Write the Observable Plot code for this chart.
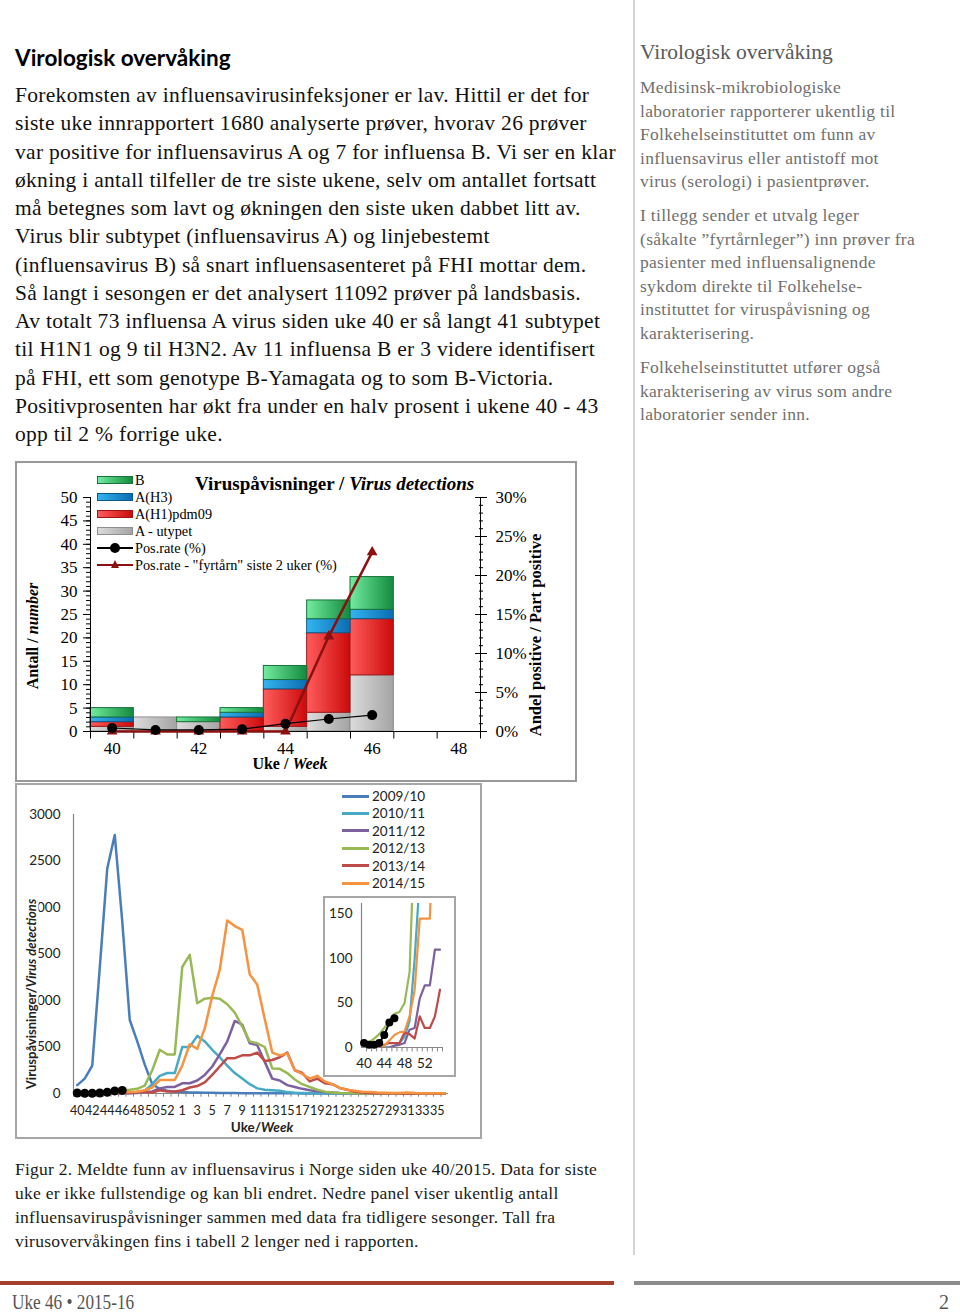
<!DOCTYPE html>
<html><head><meta charset="utf-8">
<script src="https://cdn.jsdelivr.net/npm/d3@7"></script>
<script src="https://cdn.jsdelivr.net/npm/@observablehq/plot@0.6"></script>
<style>
body{margin:0;background:#fff;}
#page{position:relative;width:960px;height:1312px;overflow:hidden;font-family:"Liberation Serif",serif;color:#000;}
.a{position:absolute;white-space:nowrap;}
.body{left:15px;top:81px;font-size:21.5px;letter-spacing:0.3px;line-height:28.25px;color:#111;}
.side{left:640px;font-size:17.5px;letter-spacing:0.3px;line-height:23.5px;color:#6f6f6f;}
.cap{left:15px;top:1157px;font-size:17.5px;letter-spacing:0.25px;line-height:24px;color:#1a1a1a;}
.leg1{font-size:14.3px;line-height:16px;}
.sw{position:absolute;width:36px;height:8px;box-sizing:border-box;}
.leg2{font-family:Lato,sans-serif;font-size:13.5px;line-height:16px;color:#222;}
.ln{position:absolute;width:27px;height:3px;}
.rot{transform:translate(-50%,-50%) rotate(-90deg);}
.box{position:absolute;box-sizing:border-box;pointer-events:none;}
</style></head><body><div id="page">

<div class="a" style="left:15px;top:44px;font-family:Lato,sans-serif;font-weight:bold;font-size:22.5px;line-height:28px;">Virologisk overvåking</div>
<div class="a body">Forekomsten av influensavirusinfeksjoner er lav. Hittil er det for<br>siste uke innrapportert 1680 analyserte prøver, hvorav 26 prøver<br>var positive for influensavirus A og 7 for influensa B. Vi ser en klar<br>økning i antall tilfeller de tre siste ukene, selv om antallet fortsatt<br>må betegnes som lavt og økningen den siste uken dabbet litt av.<br>Virus blir subtypet (influensavirus A) og linjebestemt<br>(influensavirus B) så snart influensasenteret på FHI mottar dem.<br>Så langt i sesongen er det analysert 11092 prøver på landsbasis.<br>Av totalt 73 influensa A virus siden uke 40 er så langt 41 subtypet<br>til H1N1 og 9 til H3N2. Av 11 influensa B er 3 videre identifisert<br>på FHI, ett som genotype B-Yamagata og to som B-Victoria.<br>Positivprosenten har økt fra under en halv prosent i ukene 40 - 43<br>opp til 2 % forrige uke.</div>

<div class="a" style="left:633px;top:0;width:1.5px;height:1255px;background:#d4d4d4;"></div>
<div class="a" style="left:640px;top:38px;font-size:21.5px;line-height:28px;color:#5a5a5a;">Virologisk overvåking</div>
<div class="a side" style="top:76px;">Medisinsk-mikrobiologiske<br>laboratorier rapporterer ukentlig til<br>Folkehelseinstituttet om funn av<br>influensavirus eller antistoff mot<br>virus (serologi) i pasientprøver.</div>
<div class="a side" style="top:204px;">I tillegg sender et utvalg leger<br>(såkalte ”fyrtårnleger”) inn prøver fra<br>pasienter med influensalignende<br>sykdom direkte til Folkehelse-<br>instituttet for viruspåvisning og<br>karakterisering.</div>
<div class="a side" style="top:356px;">Folkehelseinstituttet utfører også<br>karakterisering av virus som andre<br>laboratorier sender inn.</div>

<div id="topchart" class="a" style="left:15px;top:461px;"></div>
<div class="box" style="left:15px;top:461px;width:562px;height:321px;border:2px solid #999;"></div>
<div class="a" style="left:195px;top:472px;font-weight:bold;font-size:19px;line-height:24px;">Viruspåvisninger / <i>Virus detections</i></div>
<div id="leg1"></div>
<div class="a rot" style="left:33px;top:636px;font-weight:bold;font-size:16px;line-height:18px;">Antall / <i>number</i></div>
<div class="a rot" style="left:536px;top:635px;font-weight:bold;font-size:16.5px;line-height:18px;">Andel positive / Part positive</div>
<div class="a" style="left:290px;top:764px;transform:translate(-50%,-50%);font-weight:bold;font-size:16px;line-height:16px;">Uke / <i>Week</i></div>

<div id="botchart" class="a" style="left:15px;top:783px;"></div>
<div class="box" style="left:15px;top:783px;width:467px;height:356px;border:2px solid #a6a6a6;"></div>
<div class="a rot" style="left:31px;top:994px;font-family:Lato,sans-serif;font-weight:bold;font-size:13px;line-height:15px;background:#fff;color:#222;">Viruspåvisninger/<i>Virus detections</i></div>
<div class="a" style="left:262px;top:1127px;transform:translate(-50%,-50%);font-family:Lato,sans-serif;font-weight:bold;font-size:13.5px;line-height:15px;color:#222;">Uke/<i>Week</i></div>
<div id="leg2"></div>
<div id="inset" class="a" style="left:323px;top:896px;background:#fff;"></div>
<div class="box" style="left:323px;top:896px;width:133px;height:181px;border:2px solid #a6a6a6;"></div>

<div class="a cap">Figur 2. Meldte funn av influensavirus i Norge siden uke 40/2015. Data for siste<br>uke er ikke fullstendige og kan bli endret. Nedre panel viser ukentlig antall<br>influensaviruspåvisninger sammen med data fra tidligere sesonger. Tall fra<br>virusovervåkingen fins i tabell 2 lenger ned i rapporten.</div>

<div class="a" style="left:0;top:1281px;width:614px;height:4px;background:#a5402d;"></div>
<div class="a" style="left:634px;top:1281px;width:326px;height:4px;background:#8c8c8c;"></div>
<div class="a" style="left:12px;top:1290px;font-size:20px;line-height:24px;color:#555;transform:scaleX(0.86);transform-origin:left center;">Uke 46 • 2015-16</div>
<div class="a" style="left:939px;top:1290px;font-size:20px;line-height:24px;color:#555;">2</div>

</div>
<script>
// ---------- Top chart data ----------
const topWeeks = [40, 41, 42, 43, 44, 45, 46, 47, 48];
const dataWeeks = [40, 41, 42, 43, 44, 45, 46];
const barTypes = ["A - utypet", "A(H1)pdm09", "A(H3)", "B"];
const utypet = [1, 3, 2, 0, 1, 4, 12];
const h1pdm09 = [1, 0, 0, 3, 8, 17, 12];
const h3 = [1, 0, 0, 1, 2, 3, 2];
const infB = [2, 0, 1, 1, 3, 4, 7];
const posRate = [0.45, 0.2, 0.2, 0.3, 1.0, 1.6, 2.1];
const fyrtarn = [0, 0, 0, 0, 0, 12.2, 23.0];
const countTicks = [0, 5, 10, 15, 20, 25, 30, 35, 40, 45, 50];
const pctTicks = [0, 5, 10, 15, 20, 25, 30];
const topLabelWeeks = [40, 42, 44, 46, 48];
const legendTop = ["B", "A(H3)", "A(H1)pdm09", "A - utypet", "Pos.rate (%)", "Pos.rate - \"fyrtårn\" siste 2 uker (%)"];

// ---------- Bottom chart data ----------
const seasonWeeks = ["40","41","42","43","44","45","46","47","48","49","50","51","52","53",
  "1","2","3","4","5","6","7","8","9","10","11","12","13","14","15","16","17","18","19","20",
  "21","22","23","24","25","26","27","28","29","30","31","32","33","34","35","36"];
const seasons = ["2009/10", "2010/11", "2011/12", "2012/13", "2013/14", "2014/15"];
const insetSeasons = ["2010/11", "2011/12", "2012/13", "2013/14", "2014/15"];
const s0910 = [90,160,300,1350,2420,2780,1850,790,560,310,100,50,30,20,15,12,10,8,7,6,5,5,4,4,3,3,3,2,2,2,1,1,1,1,1,1,0,0,0,0,0,0,0,0,0,0,0,0,0,0];
const s1011 = [0,0,0,0,0,0,2,5,12,30,100,190,220,220,500,500,620,560,470,390,300,220,160,100,55,40,35,30,15,8,5,3,2,2,1,1,0,0,0,0,0,0,0,0,0,0,0,0,0,0];
const s1112 = [0,0,0,0,0,0,2,3,5,20,22,55,70,70,110,110,140,200,290,420,560,780,740,540,520,340,160,140,90,70,50,35,25,15,10,5,3,2,1,0,0,0,0,0,0,0,0,0,0,0];
const s1213 = [4,6,10,15,22,30,38,40,50,85,250,470,420,420,1360,1490,970,1020,1030,1020,960,870,720,560,540,500,270,265,220,150,100,70,40,20,10,5,3,2,1,0,0,0,0,0,0,0,0,0,0,0];
const s1314 = [0,0,0,0,3,5,5,5,17,15,10,35,22,22,35,65,80,120,200,290,380,380,410,410,440,350,360,390,440,250,220,130,160,110,100,60,40,20,10,5,3,2,2,1,1,1,1,0,0,0];
const s1415 = [0,0,0,0,2,8,14,17,18,35,65,145,145,145,300,530,480,700,1050,1330,1860,1800,1760,1280,1170,800,440,410,430,250,210,160,190,130,100,60,40,30,20,15,10,8,6,5,10,5,3,3,2,2];
const s1516 = [5, 3, 3, 5, 14, 28, 33];
const valueTicks = [0, 500, 1000, 1500, 2000, 2500, 3000];
const insetTicks = [0, 50, 100, 150];
const insetLabelWeeks = ["40", "44", "48", "52"];
const insetCount = 16;

// ---------- Styles (separate from data) ----------
const gradStops = {
  gU: ["#dcdcdc", "#a4a4a4"],
  gH1: ["#ff5c5c", "#cc0a0a"],
  gH3: ["#34b4f0", "#0c6cb2"],
  gB: ["#72eca0", "#138a3e"]
};
const fillOf = {"A - utypet": "url(#gU)", "A(H1)pdm09": "url(#gH1)", "A(H3)": "url(#gH3)", "B": "url(#gB)"};
const strokeOf = {"A - utypet": "#8e8e8e", "A(H1)pdm09": "#9e1212", "A(H3)": "#0b5a8e", "B": "#17733a"};
const seasonColor = {"2009/10": "#4a7ebb", "2010/11": "#46aac5", "2011/12": "#7d60a0", "2012/13": "#98b954", "2013/14": "#be4b48", "2014/15": "#f69240"};
const fyrColor = "#8b1010";

// ---------- Top chart ----------
const barData = [];
[utypet, h1pdm09, h3, infB].forEach((arr, k) => arr.forEach((n, i) => { if (n > 0) barData.push({week: dataWeeks[i], type: barTypes[k], n}); }));
const rateData = dataWeeks.map((w, i) => ({week: w, pos: posRate[i], fyr: fyrtarn[i]}));
const K = 50 / 30;
const bw = 390 / 9;

const topPlot = Plot.plot({
  width: 561, height: 320,
  marginLeft: 75, marginRight: 96, marginTop: 36, marginBottom: 50,
  style: {fontFamily: "Liberation Serif, serif", fontSize: "17px", background: "transparent", overflow: "visible", color: "#000"},
  x: {type: "band", domain: topWeeks, padding: 0, round: false, axis: null},
  y: {domain: [0, 50], axis: null},
  color: {type: "identity"},
  marks: [
    Plot.barY(barData, Plot.stackY({x: "week", y: "n", z: "type", order: barTypes, fill: d => fillOf[d.type], stroke: d => strokeOf[d.type], strokeWidth: 1, inset: 0})),
    Plot.ruleY([0], {stroke: "#000", strokeWidth: 1}),
    Plot.ruleX([topWeeks[0]], {dx: -bw / 2, y1: 0, y2: 50, stroke: "#000"}),
    Plot.ruleX([topWeeks[topWeeks.length - 1]], {dx: bw / 2, y1: 0, y2: 50, stroke: "#000"}),
    Plot.ruleX(topWeeks, {x: d => d, y1: 0, y2: -1.6, dx: -bw / 2, stroke: "#000"}),
    Plot.ruleX([topWeeks[topWeeks.length - 1]], {x: d => d, y1: 0, y2: -1.6, dx: bw / 2, stroke: "#000"}),
    Plot.axisX(topLabelWeeks, {tickSize: 0, tickPadding: 10, fontSize: 17, label: null}),
    Plot.axisY(d3.range(0, 51), {anchor: "left", tickSize: 4, tickFormat: () => "", label: null, stroke: "#000"}),
    Plot.axisY(countTicks, {anchor: "left", tickSize: 7, tickPadding: 6, fontSize: 17, label: null, stroke: "#000"}),
    Plot.axisY(d3.range(0, 31).map(p => p * K), {anchor: "right", tickSize: 4, dx: -2, tickFormat: () => "", label: null, stroke: "#000"}),
    Plot.axisY(pctTicks.map(p => p * K), {anchor: "right", tickSize: 12, dx: -6, tickFormat: () => "", label: null, stroke: "#000"}),
    Plot.axisY(pctTicks.map(p => p * K), {anchor: "right", tickSize: 6, tickPadding: 9, fontSize: 17, tickFormat: d => Math.round(d / K) + "%", label: null, stroke: "#000"}),
    Plot.line(rateData, {x: "week", y: d => d.fyr * K, stroke: fyrColor, strokeWidth: 2.5}),
    Plot.dot(rateData, {x: "week", y: d => d.fyr * K, symbol: "triangle", r: 4, fill: fyrColor, stroke: "none"}),
    Plot.line(rateData, {x: "week", y: d => d.pos * K, stroke: "#000", strokeWidth: 1.2}),
    Plot.dot(rateData, {x: "week", y: d => d.pos * K, r: 5, fill: "#000", stroke: "none"})
  ]
});
const defs = d3.select(topPlot).insert("defs", ":first-child");
Object.entries(gradStops).forEach(([id, [c0, c1]]) => {
  const g = defs.append("linearGradient").attr("id", id).attr("x1", "0").attr("x2", "1").attr("y1", "0").attr("y2", "0");
  g.append("stop").attr("offset", "0%").attr("stop-color", c0);
  g.append("stop").attr("offset", "100%").attr("stop-color", c1);
});
document.getElementById("topchart").appendChild(topPlot);

// top legend (HTML)
const leg1 = document.getElementById("leg1");
const legSw = {"B": "gB", "A(H3)": "gH3", "A(H1)pdm09": "gH1", "A - utypet": "gU"};
legendTop.forEach((name, i) => {
  const cy = 480 + 17 * i;
  if (legSw[name]) {
    const [c0, c1] = gradStops[legSw[name]];
    const s = document.createElement("div");
    s.className = "sw";
    s.style.cssText = `left:97px;top:${cy - 4}px;background:linear-gradient(to right,${c0},${c1});border:1px solid ${strokeOf[name]};`;
    leg1.appendChild(s);
  } else {
    const isFyr = i === 5;
    const col = isFyr ? fyrColor : "#000";
    const l = document.createElement("div");
    l.className = "a";
    l.style.cssText = `left:97px;top:${cy - (isFyr ? 1.25 : 0.6)}px;width:36px;height:${isFyr ? 2.5 : 1.2}px;background:${col};`;
    leg1.appendChild(l);
    const m = document.createElement("div");
    m.className = "a";
    if (isFyr) m.style.cssText = `left:111px;top:${cy - 5}px;width:0;height:0;border-left:4.5px solid transparent;border-right:4.5px solid transparent;border-bottom:8px solid ${col};`;
    else m.style.cssText = `left:110px;top:${cy - 5}px;width:10px;height:10px;border-radius:50%;background:#000;`;
    leg1.appendChild(m);
  }
  const t = document.createElement("div");
  t.className = "a leg1";
  t.style.left = "135px";
  t.style.top = (cy - 8) + "px";
  t.textContent = name;
  leg1.appendChild(t);
});

// ---------- Bottom chart ----------
const seasonArrays = [s0910, s1011, s1112, s1213, s1314, s1415];
const longData = [];
seasons.forEach((s, k) => seasonArrays[k].forEach((v, i) => longData.push({season: s, week: seasonWeeks[i], value: v})));
const current = s1516.map((v, i) => ({week: seasonWeeks[i], value: v}));
const bw2 = 375 / seasonWeeks.length;
const axisCol = "#868686";

const botPlot = Plot.plot({
  width: 466, height: 355,
  marginLeft: 58, marginRight: 33, marginTop: 31, marginBottom: 45,
  style: {fontFamily: "Lato, sans-serif", fontSize: "13px", background: "transparent", overflow: "visible", color: "#222"},
  x: {type: "band", domain: seasonWeeks, padding: 0, round: false, axis: null},
  y: {domain: [0, 3000], axis: null},
  color: {type: "identity"},
  marks: [
    Plot.ruleY([0], {stroke: axisCol, strokeWidth: 1.2}),
    Plot.ruleX([seasonWeeks[0]], {dx: -bw2 / 2, y1: 0, y2: 3000, stroke: axisCol, strokeWidth: 1.2}),
    Plot.ruleX(seasonWeeks, {x: d => d, y1: 0, y2: -40, dx: -bw2 / 2, stroke: axisCol}),
    Plot.axisX(seasonWeeks.filter((d, i) => i % 2 === 0), {tickSize: 0, tickPadding: 13, fontSize: 12.6, label: null}),
    Plot.axisY(valueTicks, {anchor: "left", tickSize: 0, tickPadding: 13, fontSize: 13.5, tickFormat: d3.format("d"), label: null}),
    Plot.line(longData, {x: "week", y: "value", z: "season", stroke: d => seasonColor[d.season], strokeWidth: 2.5}),
    Plot.line(current, {x: "week", y: "value", stroke: "#000", strokeWidth: 2}),
    Plot.dot(current, {x: "week", y: "value", r: 4.5, fill: "#000", stroke: "none"})
  ]
});
document.getElementById("botchart").appendChild(botPlot);

// bottom legend
const leg2 = document.getElementById("leg2");
seasons.forEach((s, i) => {
  const cy = 796 + 17.45 * i;
  const l = document.createElement("div");
  l.className = "ln";
  l.style.cssText = `left:342px;top:${cy - 1.5}px;background:${seasonColor[s]};`;
  leg2.appendChild(l);
  const t = document.createElement("div");
  t.className = "a leg2";
  t.style.left = "372px";
  t.style.top = (cy - 8) + "px";
  t.textContent = s;
  leg2.appendChild(t);
});

// inset
const insetWeeks = seasonWeeks.slice(0, insetCount);
const insetData = longData.filter(d => insetWeeks.includes(d.week) && insetSeasons.includes(d.season));
const bw3 = 81 / insetCount;
const insetPlot = Plot.plot({
  width: 132, height: 180,
  marginLeft: 38, marginRight: 13, marginTop: 7, marginBottom: 29,
  style: {fontFamily: "Lato, sans-serif", fontSize: "13.5px", background: "transparent", overflow: "visible", color: "#222"},
  x: {type: "band", domain: insetWeeks, padding: 0, round: false, axis: null},
  y: {domain: [0, 162], axis: null},
  color: {type: "identity"},
  marks: [
    Plot.ruleY([0], {stroke: axisCol, strokeWidth: 1.2}),
    Plot.ruleX([insetWeeks[0]], {dx: -bw3 / 2, y1: 0, y2: 162, stroke: axisCol, strokeWidth: 1.2}),
    Plot.ruleX(insetWeeks, {x: d => d, y1: 0, y2: -5, dx: bw3 / 2, stroke: axisCol}),
    Plot.axisX(insetLabelWeeks, {tickSize: 0, tickPadding: 11, fontSize: 13.5, label: null}),
    Plot.axisY(insetTicks, {anchor: "left", tickSize: 0, tickPadding: 9, fontSize: 13.5, label: null}),
    Plot.line(insetData, {x: "week", y: "value", z: "season", stroke: d => seasonColor[d.season], strokeWidth: 2.2, clip: true}),
    Plot.line(current, {x: "week", y: "value", stroke: "#000", strokeWidth: 2}),
    Plot.dot(current, {x: "week", y: "value", r: 4, fill: "#000", stroke: "none"})
  ]
});
document.getElementById("inset").appendChild(insetPlot);
</script>
</body></html>
